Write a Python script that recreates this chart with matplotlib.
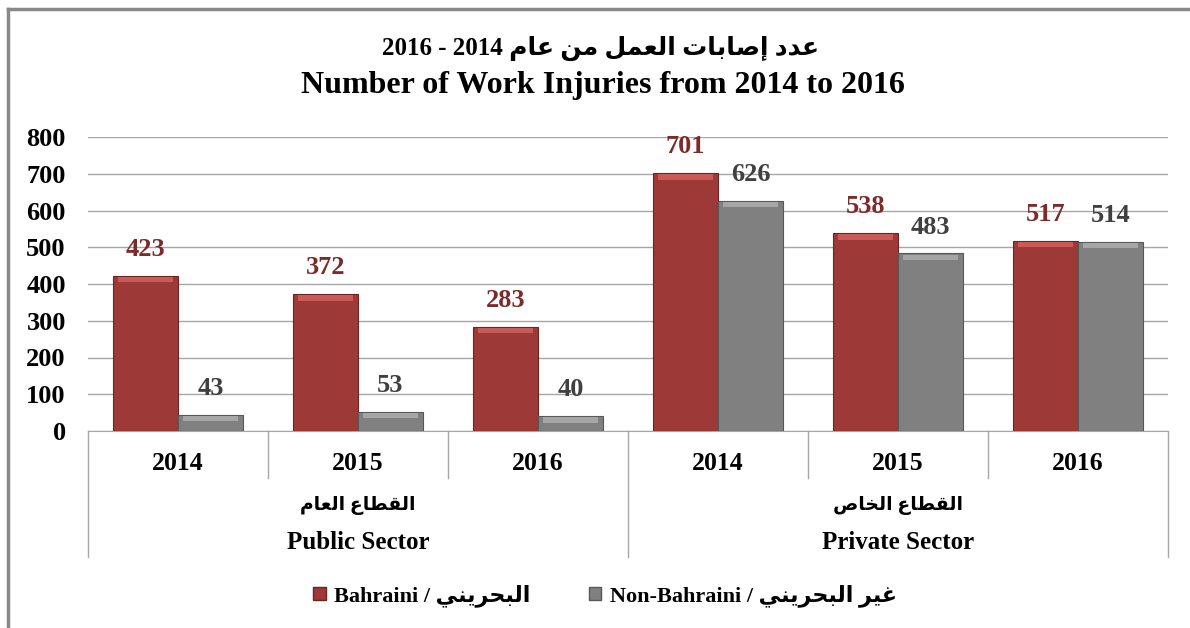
import numpy as np
import matplotlib
matplotlib.use('Agg')
import matplotlib.pyplot as plt
from matplotlib.patches import Patch
from matplotlib.lines import Line2D

# data
years = ['2014', '2015', '2016', '2014', '2015', '2016']
sectors_en = ['Public Sector', 'Private Sector']
sectors_ar = ['القطاع العام', 'القطاع الخاص']
bahraini = [423, 372, 283, 701, 538, 517]
non_bahraini = [43, 53, 40, 626, 483, 514]
yticks = [0, 100, 200, 300, 400, 500, 600, 700, 800]

# simple arabic shaping (matplotlib draws no joined forms)
forms = {
    'ا': ('\uFE8D', '\uFE8E', None, None),
    'إ': ('\uFE87', '\uFE88', None, None),
    'د': ('\uFEA9', '\uFEAA', None, None),
    'ر': ('\uFEAD', '\uFEAE', None, None),
    'ب': ('\uFE8F', '\uFE90', '\uFE91', '\uFE92'),
    'ت': ('\uFE95', '\uFE96', '\uFE97', '\uFE98'),
    'ح': ('\uFEA1', '\uFEA2', '\uFEA3', '\uFEA4'),
    'خ': ('\uFEA5', '\uFEA6', '\uFEA7', '\uFEA8'),
    'ص': ('\uFEB9', '\uFEBA', '\uFEBB', '\uFEBC'),
    'ط': ('\uFEC1', '\uFEC2', '\uFEC3', '\uFEC4'),
    'ع': ('\uFEC9', '\uFECA', '\uFECB', '\uFECC'),
    'غ': ('\uFECD', '\uFECE', '\uFECF', '\uFED0'),
    'ق': ('\uFED5', '\uFED6', '\uFED7', '\uFED8'),
    'ل': ('\uFEDD', '\uFEDE', '\uFEDF', '\uFEE0'),
    'م': ('\uFEE1', '\uFEE2', '\uFEE3', '\uFEE4'),
    'ن': ('\uFEE5', '\uFEE6', '\uFEE7', '\uFEE8'),
    'ي': ('\uFEF1', '\uFEF2', '\uFEF3', '\uFEF4'),
}

def ar(s):
    out = []
    for i, c in enumerate(s):
        if c not in forms:
            out.append(c)
            continue
        prev = s[i-1] if i > 0 else ''
        nxt = s[i+1] if i < len(s)-1 else ''
        jp = prev in forms and forms[prev][2] is not None
        jn = forms[c][2] is not None and nxt in forms
        iso, fin, ini, med = forms[c]
        if jp and jn:
            out.append(med)
        elif jp:
            out.append(fin)
        elif jn:
            out.append(ini)
        else:
            out.append(iso)
    return ''.join(out)[::-1]

plt.rcParams['font.family'] = ['Liberation Serif', 'DejaVu Sans']
plt.rcParams['font.weight'] = 'bold'

red = '#9d3a38'
gray = '#808080'

fig = plt.figure(figsize=(11.9, 6.28), dpi=100)
ax = fig.add_axes([88/1190, 1-431/628, 1080/1190, 294/628])

x = np.arange(len(years))
w = 0.36
ax.bar(x - w/2, bahraini, w, color=red, edgecolor='#6a2422', linewidth=0.8, zorder=3)
ax.bar(x + w/2, non_bahraini, w, color=gray, edgecolor='#585858', linewidth=0.8, zorder=3)
# top highlight
ax.bar(x - w/2, 14, w*0.86, bottom=np.array(bahraini)-17, color='#c85a57', linewidth=0, zorder=4)
ax.bar(x + w/2, 14, w*0.86, bottom=np.array(non_bahraini)-17, color='#a6a6a6', linewidth=0, zorder=4)

for xi, v in zip(x, bahraini):
    ax.annotate(str(v), (xi - w/2, v), xytext=(0, 19), textcoords='offset points',
                ha='center', va='center', fontsize=19, color='#7a2b2a', fontweight='bold')
for xi, v in zip(x, non_bahraini):
    ax.annotate(str(v), (xi + w/2, v), xytext=(0, 19), textcoords='offset points',
                ha='center', va='center', fontsize=19, color='#404040', fontweight='bold')

ax.set_xlim(-0.5, len(years) - 0.5)
ax.set_ylim(0, 800)
ax.set_yticks(yticks)
ax.set_yticklabels([str(t) for t in yticks], fontsize=19, fontweight='bold')
ax.tick_params(axis='y', length=0, pad=16)
ax.set_xticks([])
ax.grid(axis='y', color='#a6a6a6', linewidth=1, zorder=0)
for s in ['top', 'right', 'left']:
    ax.spines[s].set_visible(False)
ax.spines['bottom'].set_color('#a6a6a6')

# category axis
tr = ax.get_xaxis_transform()
for b in [0.5, 1.5, 3.5, 4.5]:
    ax.add_line(Line2D([b, b], [0, -0.16], transform=tr, color='#a6a6a6', lw=1, clip_on=False))
for b in [-0.5, 2.5, 5.5]:
    ax.add_line(Line2D([b, b], [0, -0.429], transform=tr, color='#a6a6a6', lw=1, clip_on=False))
for xi, yl in zip(x, years):
    ax.text(xi, -0.112, yl, transform=tr, ha='center', va='center', fontsize=18.5, fontweight='bold')
for k in range(2):
    cx = 3 * k + 1
    ax.text(cx, -0.255, ar(sectors_ar[k]), transform=tr, ha='center', va='center',
            fontsize=13.5, fontweight='bold')
    ax.text(cx, -0.378, sectors_en[k], transform=tr, ha='center', va='center',
            fontsize=18, fontweight='bold')

# title
fig.text(601/1190, 1-48/628, '2016 - 2014 ' + ar('عدد إصابات العمل من عام'),
         ha='center', va='center', fontsize=18, fontweight='bold')
fig.text(603/1190, 1-86/628, 'Number of Work Injuries from 2014 to 2016',
         ha='center', va='center', fontsize=23, fontweight='bold')

# legend
handles = [Patch(facecolor=red, edgecolor='#6a2422'), Patch(facecolor=gray, edgecolor='#585858')]
labels = ['Bahraini / ' + ar('البحريني'), 'Non-Bahraini / ' + ar('غير البحريني')]
fig.legend(handles, labels, loc='center', bbox_to_anchor=(605/1190, 1-596/628), ncol=2,
           frameon=False, handlelength=0.55, handleheight=0.55, handletextpad=0.4,
           columnspacing=2.6, prop={'size': 16, 'weight': 'bold'})

# outer frame
fig.add_artist(Line2D([8/1190, 8/1190], [0, 1-9/628], color='#888888', lw=2.5))
fig.add_artist(Line2D([8/1190, 1], [1-9/628, 1-9/628], color='#888888', lw=2.5))

fig.savefig('out.png', dpi=100)
